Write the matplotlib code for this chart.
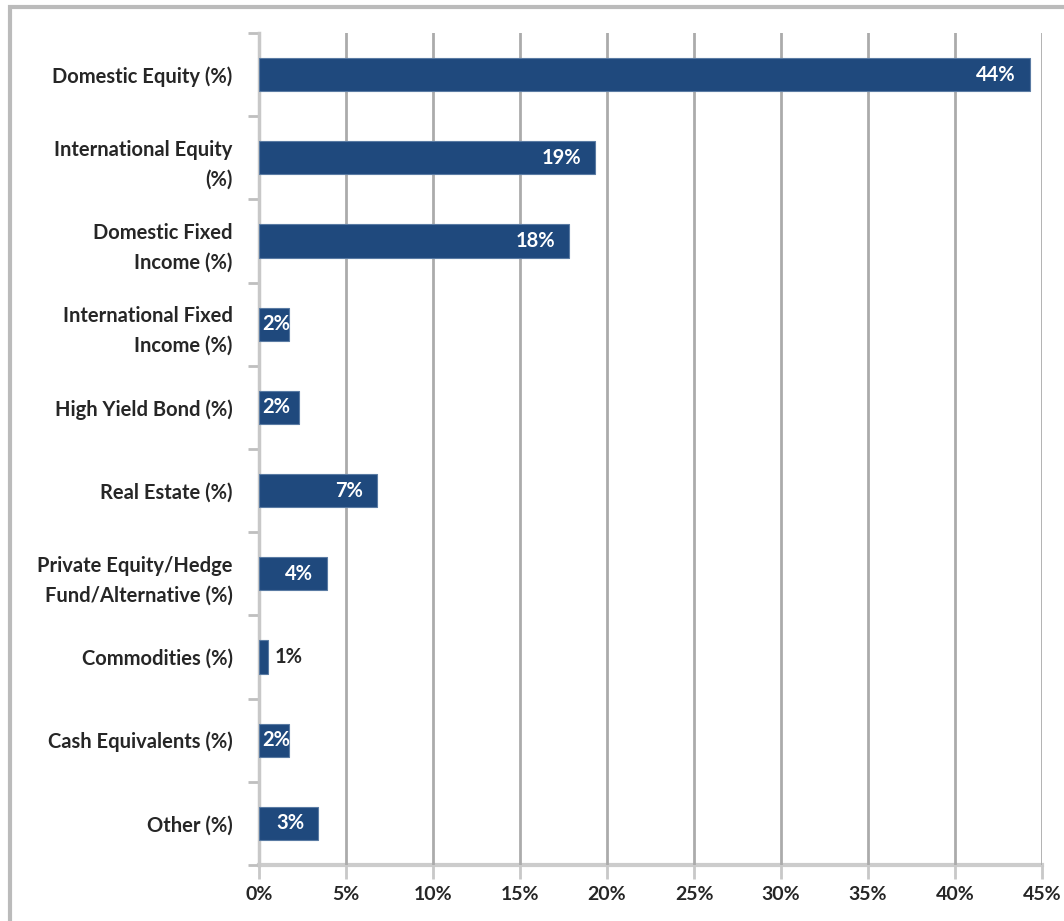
import numpy as np
import matplotlib
matplotlib.use('Agg')
from matplotlib import pyplot as plt
from matplotlib.patches import Rectangle
from matplotlib.ticker import MultipleLocator, FixedLocator, FuncFormatter

# asset allocation, percent of portfolio
categories = ['Domestic Equity (%)',
              'International Equity\n(%)',
              'Domestic Fixed\nIncome (%)',
              'International Fixed\nIncome (%)',
              'High Yield Bond (%)',
              'Real Estate (%)',
              'Private Equity/Hedge\nFund/Alternative (%)',
              'Commodities (%)',
              'Cash Equivalents (%)',
              'Other (%)']
values = [44.3, 19.3, 17.8, 1.7, 2.3, 6.8, 3.9, 0.5, 1.7, 3.4]
labels = ['44%', '19%', '18%', '2%', '2%', '7%', '4%', '1%', '2%', '3%']

plt.rcParams['font.family'] = ['Lato', 'DejaVu Sans']

barcol = '#1F497D'
gridcol = '#ABABAB'

fig = plt.figure(figsize=(10.64, 9.21), dpi=100)
ax = fig.add_axes([259/1064, 56/921, 783/1064, 832/921])

y = np.arange(len(values))
bars = ax.barh(y, values, height=0.4, color=barcol, edgecolor='#5A7BA3',
               linewidth=0.8, zorder=3)
ax.set_ylim(len(values) - 0.5, -0.5)
ax.set_xlim(0, 45)

ax.set_yticks(y)
ax.set_yticklabels(categories, fontsize=14.5, fontweight='bold', color='#262626',
                   linespacing=1.6)
ax.yaxis.set_minor_locator(FixedLocator(np.arange(-0.5, len(values), 1)))
ax.tick_params(axis='y', which='major', length=0, pad=19)
ax.tick_params(axis='y', which='minor', length=8, width=2, color='#BFBFBF')

ax.xaxis.set_major_locator(MultipleLocator(5))
ax.xaxis.set_major_formatter(FuncFormatter(lambda v, p: '%d%%' % v))
ax.tick_params(axis='x', length=10, width=2, color='#C8C8C8', labelsize=14,
               labelcolor='#262626', pad=5)
for t in ax.get_xticklabels():
    t.set_fontweight('bold')

ax.grid(axis='x', color=gridcol, linewidth=2, zorder=0)
ax.get_xgridlines()[-1].set_color('#D0D0D0')
ax.get_xgridlines()[-1].set_linewidth(3)
for s in ['top', 'right']:
    ax.spines[s].set_visible(False)
ax.spines['left'].set_color('#C8C8C8')
ax.spines['left'].set_linewidth(2.5)
ax.spines['bottom'].set_color('#CCCCCC')
ax.spines['bottom'].set_linewidth(3)
ax.spines['bottom'].set_zorder(1)

# value labels: white inside the bar end, black outside for tiny bars
for b, v, lab in zip(bars, values, labels):
    yc = b.get_y() + b.get_height() / 2
    if v < 1:
        ax.text(v + 0.4, yc, lab, ha='left', va='center', fontsize=14.5,
                fontweight='bold', color='#262626', zorder=4)
    elif v - 0.8 < 1.7:
        t = ax.text(0.2, yc, lab, ha='left', va='center', fontsize=14.5,
                    fontweight='bold', color='white', zorder=4)
        t.set_clip_path(b)
    else:
        ax.text(v - 0.8, yc, lab, ha='right', va='center', fontsize=14.5,
                fontweight='bold', color='white', zorder=4)

# outer chart border
fig.patches.append(Rectangle((10/1064, -0.05), 1.2, (914 + 0.05*921)/921,
                             transform=fig.transFigure, fill=False,
                             edgecolor='#BBBBBB', linewidth=3))

fig.savefig('out.png', dpi=100)
